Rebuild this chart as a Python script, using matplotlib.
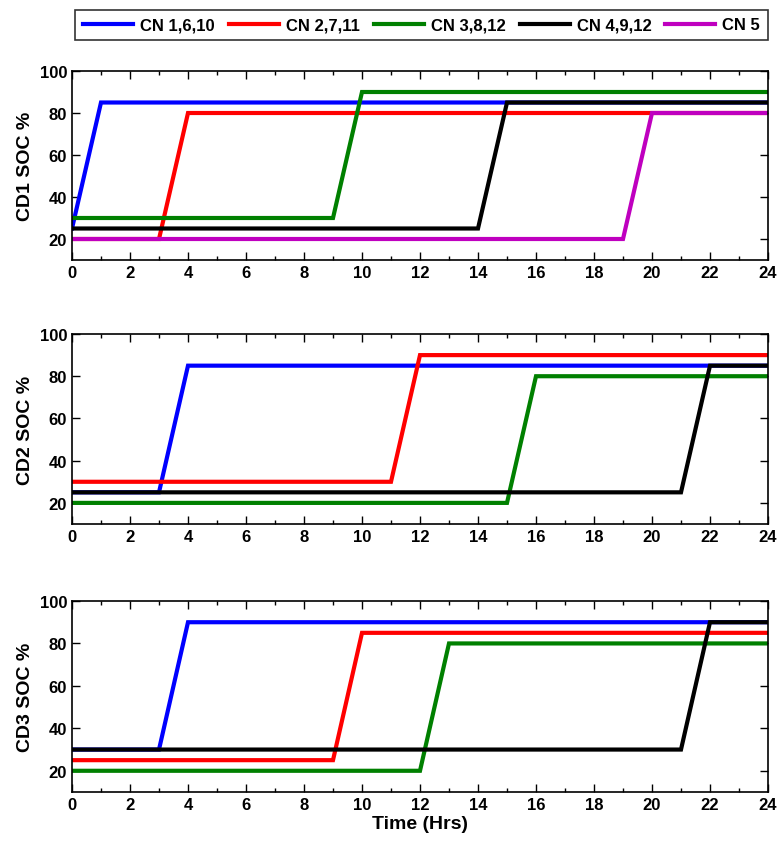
import matplotlib
matplotlib.use("Agg")
import matplotlib.pyplot as plt
from matplotlib.ticker import MultipleLocator

plt.rcParams['font.family'] = ['Liberation Sans', 'DejaVu Sans']
plt.rcParams['font.weight'] = 'bold'

names = ["CN 1,6,10", "CN 2,7,11", "CN 3,8,12", "CN 4,9,12", "CN 5"]
colors = ["#0000ff", "#ff0000", "#008000", "#000000", "#bf00bf"]

# (time, soc) breakpoints per charging node, per charging device
cd1_t = [[0, 1, 24], [0, 3, 4, 24], [0, 9, 10, 24], [0, 14, 15, 24], [0, 19, 20, 24]]
cd1_soc = [[25, 85, 85], [20, 20, 80, 80], [30, 30, 90, 90], [25, 25, 85, 85], [20, 20, 80, 80]]

cd2_t = [[0, 3, 4, 24], [0, 11, 12, 24], [0, 15, 16, 24], [0, 21, 22, 24]]
cd2_soc = [[25, 25, 85, 85], [30, 30, 90, 90], [20, 20, 80, 80], [25, 25, 85, 85]]

cd3_t = [[0, 3, 4, 24], [0, 9, 10, 24], [0, 12, 13, 24], [0, 21, 22, 24]]
cd3_soc = [[30, 30, 90, 90], [25, 25, 85, 85], [20, 20, 80, 80], [30, 30, 90, 90]]

fig = plt.figure(figsize=(7.79, 8.45), dpi=100)
W, H = 779, 845
boxes = [(72, 72, 261), (72, 335, 525), (72, 602, 793)]
right = 768

data = [(cd1_t, cd1_soc, "CD1 SOC %"), (cd2_t, cd2_soc, "CD2 SOC %"), (cd3_t, cd3_soc, "CD3 SOC %")]
handles = []
for k, ((ts, ss, lab), (l, t, b)) in enumerate(zip(data, boxes)):
    ax = fig.add_axes([l / W, 1 - b / H, (right - l) / W, (b - t) / H])
    for i, (tt, s) in enumerate(zip(ts, ss)):
        h, = ax.plot(tt, s, color=colors[i], lw=3, solid_joinstyle='miter')
        if k == 0:
            handles.append(h)
    ax.set_xlim(0, 24)
    ax.set_ylim(10, 100)
    ax.set_xticks(range(0, 25, 2))
    ax.set_yticks(range(20, 101, 20))
    ax.xaxis.set_minor_locator(MultipleLocator(1))
    ax.tick_params(which='both', direction='in', top=True, right=True, labelsize=12, width=1)
    ax.tick_params(which='major', length=6)
    ax.tick_params(which='minor', length=3)
    ax.set_ylabel(lab, fontsize=14, fontweight='bold', labelpad=4)
    for sp in ax.spines.values():
        sp.set_linewidth(1.2)
    if k == 2:
        ax.set_xlabel("Time (Hrs)", fontsize=14, fontweight='bold', labelpad=2)

leg = fig.legend(handles, names, loc='center', bbox_to_anchor=((75 + right) / 2 / W, 1 - 26 / H),
                 ncol=5, fontsize=12, frameon=True, fancybox=False, edgecolor='black',
                 handlelength=3.0, handletextpad=0.42, columnspacing=0.85, borderpad=0.45,
                 borderaxespad=0)
leg.get_frame().set_linewidth(1.2)

fig.savefig("out.png", dpi=100)
